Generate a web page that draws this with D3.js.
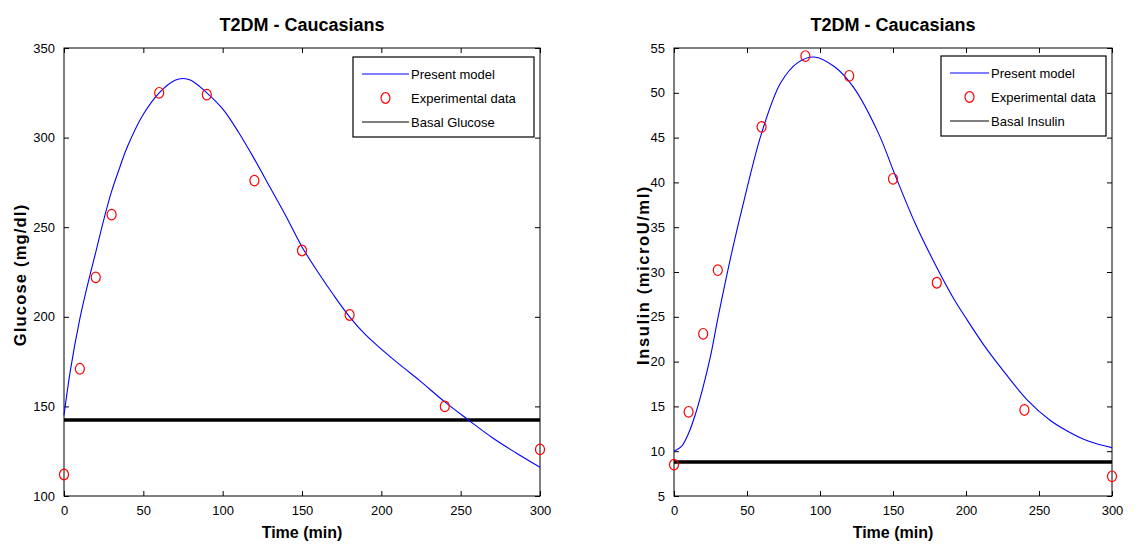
<!DOCTYPE html>
<html><head><meta charset="utf-8">
<script src="https://cdn.jsdelivr.net/npm/d3@7"></script>
<style>
body{margin:0;background:#fff;}
svg{display:block;}
text{font-family:"Liberation Sans Narrow","Liberation Sans",Arial,sans-serif;}
</style></head>
<body>
<svg id="c" width="1144" height="544"></svg>
<script>
// ---- data ----
const expTime = [0,10,20,30,60,90,120,150,180,240,300];
const glucoseExp = [112,171,222,257,325,324,276,237,201,150,126];
const insulinExp = [8.5,14.4,23.1,30.2,46.2,54.1,51.9,40.4,28.8,14.6,7.2];

const glucoseModelTime = [0,4,10,16,20,25,30,35,40,50,60,70,75,80,90,100,110,120,130,140,150,160,170,180,190,200,212,224,240,254,270,285,300];
const glucoseModel    = [145,170,199,222,236,254,270,283,295,313,325,332,333,332,325,316,303,288,272,256,239,225,212,200,190,182,173,164.5,152.5,143,132.5,124,116];

const insulinModelTime = [0,5,10,15,20,25,30,40,48,60,73,85,96,110,123,140,151,165,180,192,201,212,224,242,258,270,281,290,300];
const insulinModel    = [10,10.5,12,14.3,17.2,20.6,24.8,32.5,38,45.5,51.1,53.4,54,52.9,50.6,45.5,41,35.5,30.5,26.9,24.6,21.9,19.3,15.7,13.4,12.2,11.3,10.8,10.4];

const basalGlucose = 142.4;
const basalInsulin = 8.8;

const xTicks = [0,50,100,150,200,250,300];
const glucoseTicks = [100,150,200,250,300,350];
const insulinTicks = [5,10,15,20,25,30,35,40,45,50,55];

const titleText = "T2DM - Caucasians";
const legendGlucose = ["Present model","Experimental data","Basal Glucose"];
const legendInsulin = ["Present model","Experimental data","Basal Insulin"];

// ---- drawing ----
const svg = d3.select("#c");

function panel(opt){
  const g = svg.append("g");
  const x = d3.scaleLinear().domain([0,300]).range([opt.x0,opt.x1]);
  const y = d3.scaleLinear().domain(opt.ydom).range([opt.y1,opt.y0]);
  const tl = 5;
  g.append("rect").attr("x",opt.x0).attr("y",opt.y0).attr("width",opt.x1-opt.x0).attr("height",opt.y1-opt.y0)
    .attr("fill","none").attr("stroke","#000").attr("stroke-width",1);
  const xb = g.append("g").attr("transform",`translate(0,${opt.y1})`)
    .call(d3.axisBottom(x).tickValues(xTicks).tickSizeInner(-tl).tickSizeOuter(0).tickPadding(10));
  const xt = g.append("g").attr("transform",`translate(0,${opt.y0})`)
    .call(d3.axisTop(x).tickValues(xTicks).tickSizeInner(-tl).tickSizeOuter(0).tickFormat(""));
  const yl = g.append("g").attr("transform",`translate(${opt.x0},0)`)
    .call(d3.axisLeft(y).tickValues(opt.yticks).tickSizeInner(-tl).tickSizeOuter(0).tickPadding(9));
  const yr = g.append("g").attr("transform",`translate(${opt.x1},0)`)
    .call(d3.axisRight(y).tickValues(opt.yticks).tickSizeInner(-tl).tickSizeOuter(0).tickFormat(""));
  [xb,xt,yl,yr].forEach(a=>{
    a.select(".domain").remove();
    a.selectAll("text").attr("font-size",13).attr("fill","#000")
      .style("font-family",'"Liberation Sans Narrow","Liberation Sans",Arial,sans-serif');
  });
  g.append("line").attr("x1",opt.x0).attr("x2",opt.x1).attr("y1",y(opt.basal)).attr("y2",y(opt.basal))
    .attr("stroke","#000").attr("stroke-width",3.5);
  const line = d3.line().x((d,i)=>x(opt.mt[i])).y(d=>y(d)).curve(d3.curveCatmullRom.alpha(0.5));
  g.append("path").datum(opt.mv).attr("d",line).attr("fill","none").attr("stroke","#0000ff").attr("stroke-width",1.1);
  g.selectAll("ellipse.pt").data(opt.ev).enter().append("ellipse").attr("class","pt")
    .attr("cx",(d,i)=>x(expTime[i])).attr("cy",d=>y(d)).attr("rx",4.5).attr("ry",5.3)
    .attr("fill","none").attr("stroke","#ff0000").attr("stroke-width",1.2);
  g.append("text").attr("x",(opt.x0+opt.x1)/2).attr("y",31).attr("text-anchor","middle")
    .attr("font-size",18).attr("font-weight","bold").text(titleText);
  g.append("text").attr("x",(opt.x0+opt.x1)/2).attr("y",538).attr("text-anchor","middle")
    .attr("font-size",16).attr("font-weight","bold").text("Time (min)");
  g.append("text").attr("transform",`translate(${opt.ylx},${(opt.y0+opt.y1)/2+3}) rotate(-90)`)
    .attr("text-anchor","middle").attr("font-size",16.5).attr("font-weight","bold")
    .attr("letter-spacing",opt.ls)
    .style("font-family",'"Liberation Sans","Arial",sans-serif').text(opt.ylabel);
  const L = opt.leg;
  const lg = g.append("g");
  lg.append("rect").attr("x",L.x).attr("y",L.y).attr("width",L.w).attr("height",L.h)
    .attr("fill","#fff").attr("stroke","#000").attr("stroke-width",1.2);
  const rows = [L.y+17, L.y+41, L.y+65];
  lg.append("line").attr("x1",L.x+9).attr("x2",L.lx2).attr("y1",rows[0]).attr("y2",rows[0]).attr("stroke","#0000ff").attr("stroke-width",1.1);
  lg.append("ellipse").attr("cx",(L.x+9+L.lx2)/2).attr("cy",rows[1]).attr("rx",4.5).attr("ry",5.3).attr("fill","none").attr("stroke","#ff0000").attr("stroke-width",1.2);
  lg.append("line").attr("x1",L.x+9).attr("x2",L.lx2).attr("y1",rows[2]).attr("y2",rows[2]).attr("stroke","#000").attr("stroke-width",1.1);
  opt.legText.forEach((t,i)=>{
    lg.append("text").attr("x",L.lx2+2).attr("y",rows[i]+4.5).attr("font-size",13).text(t);
  });
}

panel({x0:64,x1:540,y0:48,y1:496,ydom:[100,350],yticks:glucoseTicks,basal:basalGlucose,
  mt:glucoseModelTime,mv:glucoseModel,ev:glucoseExp,ylabel:"Glucose (mg/dl)",ylx:26,ls:1.2,
  leg:{x:353,y:57,w:181,h:80,lx2:409},legText:legendGlucose});

panel({x0:674,x1:1112,y0:48,y1:496,ydom:[5,55],yticks:insulinTicks,basal:basalInsulin,
  mt:insulinModelTime,mv:insulinModel,ev:insulinExp,ylabel:"Insulin (microU/ml)",ylx:649,ls:1.6,
  leg:{x:941,y:56,w:165,h:80,lx2:989},legText:legendInsulin});
</script>
</body></html>
